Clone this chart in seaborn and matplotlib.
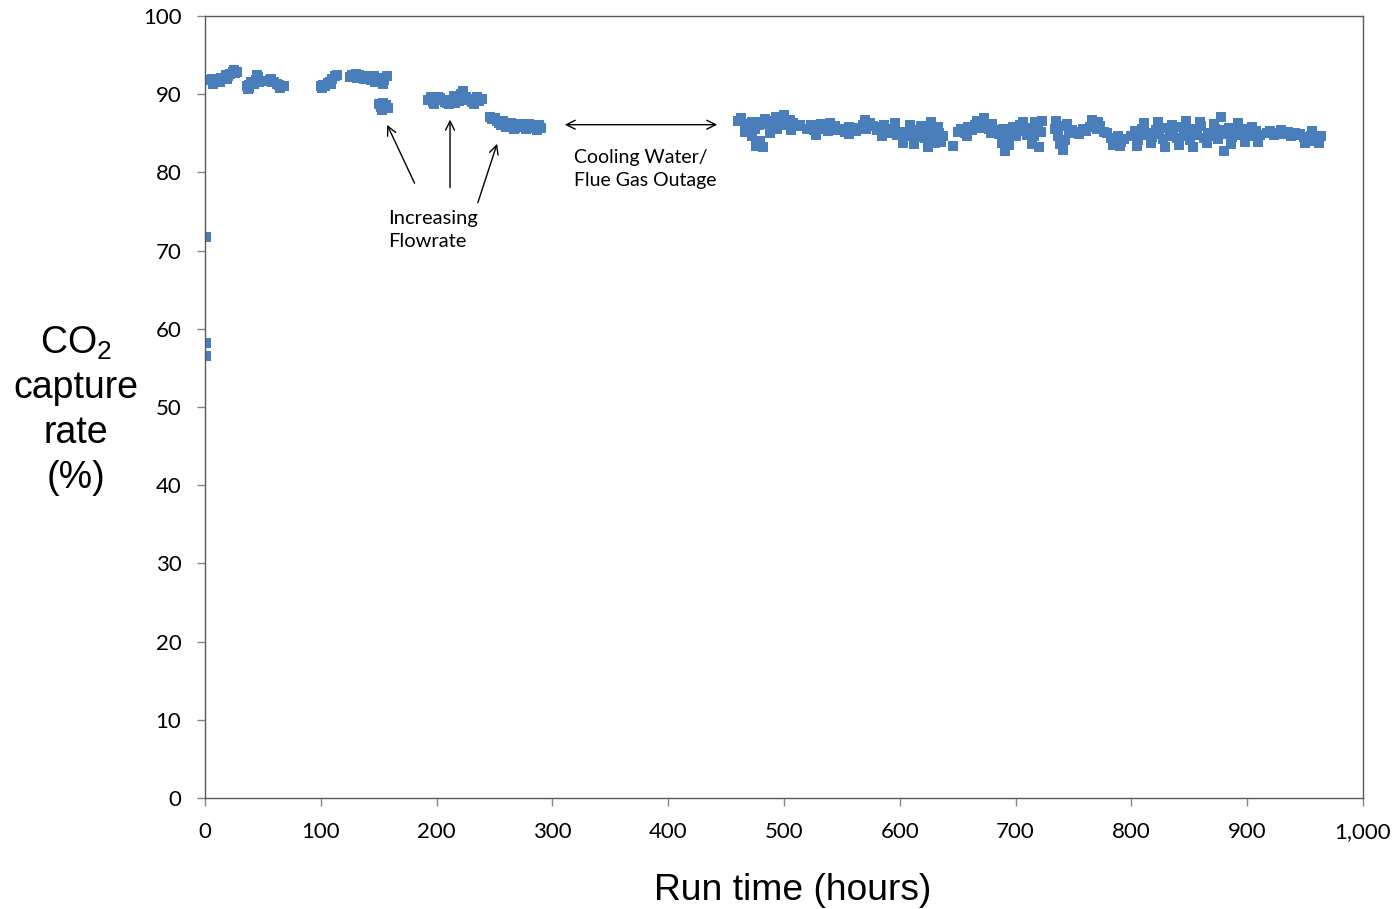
import numpy as np
import pandas as pd
import matplotlib
matplotlib.use("Agg")
import matplotlib.pyplot as plt
import seaborn as sns

# ---------------- data ----------------
start_hours = [0.8, 0.8, 0.8]
start_vals = [71.7, 58.2, 56.5]

segA_hours = [4, 6, 8, 10, 12, 14, 16, 18, 20, 22, 24, 26, 28, 7, 13, 19, 25]
segA_vals = [91.8, 92.0, 91.6, 91.5, 91.9, 92.1, 92.0, 92.4, 92.3, 92.6, 92.8, 92.7, 92.9, 91.3, 91.5, 91.9, 93.1]

segB_hours = [36, 38, 38, 40, 42, 44, 46, 47, 37, 45]
segB_vals = [91.0, 91.2, 90.8, 91.5, 91.3, 91.8, 92.2, 91.6, 90.7, 92.4]

segC_hours = [54, 56, 58, 60, 62, 64, 66, 68, 57, 65]
segC_vals = [91.7, 91.8, 91.6, 91.5, 91.3, 91.2, 91.0, 91.1, 92.0, 90.8]

segD_hours = [100, 102, 104, 106, 108, 110, 112, 114, 101, 109]
segD_vals = [91.0, 91.2, 91.1, 91.4, 91.6, 92.0, 92.3, 92.5, 90.8, 91.3]

segE_hours = [125, 127, 129, 131, 133, 135, 137, 139, 141, 143, 145, 147, 149, 151, 153, 155, 157, 130, 146, 154]
segE_vals = [92.2, 92.4, 92.3, 92.1, 92.4, 92.2, 92.0, 92.3, 92.1, 91.8, 92.0, 91.6, 91.9, 92.1, 91.5, 91.8, 92.3, 92.6, 92.3, 91.3]

segF_hours = [150, 152, 154, 156, 158, 153]
segF_vals = [88.8, 88.3, 88.9, 88.6, 88.2, 88.0]

segG_hours = [193, 195, 197, 199, 201, 203, 205, 207, 209, 211, 213, 215,
              217, 219, 221, 223, 225, 227, 229, 231, 233, 235, 237, 239, 198, 216, 232]
segG_vals = [89.2, 89.6, 89.0, 89.4, 89.7, 89.5, 89.3, 89.0, 88.9, 88.8, 89.3, 89.8,
             89.3, 89.1, 90.0, 90.4, 89.6, 89.2, 89.4, 89.0, 89.3, 89.6, 89.1, 89.4, 88.8, 88.9, 88.8]

segH_hours = [246, 248, 250, 252, 254, 256, 258, 260, 262, 264, 266, 268,
              270, 272, 274, 276, 278, 280, 282, 284, 286, 288, 290, 257, 267, 277, 287]
segH_vals = [87.1, 86.8, 87.0, 86.6, 86.3, 86.0, 86.2, 85.8, 86.1, 86.3, 85.9, 85.7,
             86.0, 86.2, 85.8, 86.1, 85.9, 86.2, 85.7, 86.0, 85.8, 86.1, 85.7, 86.6, 85.5, 85.5, 85.4]

segI1_hours = [460, 463, 466, 469, 472, 475, 478, 481, 484, 487, 490, 493, 496, 499, 502, 505, 508, 511, 514,
               466, 472, 476, 479, 482, 488, 494, 500, 506]
segI1_vals = [86.6, 86.9, 86.2, 85.8, 86.4, 85.6, 86.0, 86.5, 86.8, 86.2, 86.6, 87.1, 86.5, 86.0, 86.4, 86.7, 86.3, 85.9, 86.1,
              85.2, 84.6, 83.4, 84.0, 83.2, 85.0, 85.5, 87.4, 85.4]

segI2_hours = [520, 523, 526, 529, 532, 535, 538, 541, 544, 547, 550, 553, 556, 559, 562, 565, 568, 571, 574, 577,
               580, 583, 586, 589, 592, 595, 598, 601, 604, 607, 610, 613, 616, 619, 622, 625, 628, 631, 634, 637,
               528, 540, 556, 570, 585, 596, 603, 609, 612, 618, 624, 627, 630, 633, 636]
segI2_vals = [85.6, 86.0, 85.4, 85.8, 86.2, 85.5, 85.3, 85.7, 85.9, 85.4, 85.6, 85.2, 85.8, 85.5, 85.3, 85.7, 86.0, 85.6, 86.3, 85.9,
              85.4, 85.8, 86.1, 85.3, 85.0, 85.5, 84.8, 85.2, 84.6, 84.9, 85.4, 84.5, 84.8, 85.3, 84.4, 85.6, 84.9, 84.2, 85.1, 84.6,
              84.8, 86.3, 84.9, 86.7, 84.7, 86.3, 83.8, 86.0, 83.6, 85.9, 83.3, 86.4, 83.7, 85.8, 83.9]

segI3_hours = [646, 650, 653, 656, 659, 662, 665, 668, 671, 674, 677, 680, 683, 686, 689, 692, 695, 698, 701, 704,
               707, 710, 713, 716, 719, 722,
               658, 667, 673, 679, 688, 691, 694, 700, 706, 714, 717, 720, 723]
segI3_vals = [83.4, 85.2, 85.6, 85.0, 85.8, 85.4, 86.0, 85.7, 86.3, 86.0, 85.6, 86.2, 85.4, 84.9, 85.5, 84.6, 85.0, 85.8, 85.3, 86.1,
              85.5, 84.8, 85.7, 84.6, 85.9, 85.2,
              84.6, 86.6, 86.9, 85.0, 83.8, 82.8, 83.5, 84.6, 86.5, 83.6, 86.4, 83.3, 86.6]

segI4_hours = [734, 737, 740, 743, 746, 749, 752, 755, 758, 761, 764, 767, 770, 773, 776, 779, 782, 785, 788, 791, 794,
               735, 738, 741, 744, 766, 771, 784, 790]
segI4_vals = [85.5, 84.6, 85.9, 84.2, 85.0, 85.4, 85.2, 84.9, 85.5, 85.3, 85.8, 86.1, 85.6, 85.9, 85.2, 85.0, 84.4, 84.0, 84.6, 83.9, 84.3,
              86.6, 83.6, 82.9, 86.2, 86.7, 86.4, 83.5, 83.4]

segI5_hours = [800, 803, 806, 809, 812, 815, 818, 821, 824, 827, 830, 833, 836, 839, 842, 845, 848, 851, 854, 857,
               860, 863, 866, 869, 872, 875, 878, 881, 884, 887, 890, 893, 896, 899,
               805, 811, 817, 823, 829, 835, 841, 847, 853, 859, 865, 871, 877, 880, 886, 892, 898]
segI5_vals = [84.6, 85.3, 84.2, 85.6, 84.8, 85.1, 84.5, 85.4, 84.9, 84.3, 85.7, 84.7, 85.2, 84.4, 85.8, 84.6, 85.3, 84.2, 85.5, 84.8,
              85.9, 84.4, 85.1, 84.7, 85.6, 84.3, 85.4, 84.9, 85.7, 84.5, 85.2, 84.8, 85.5, 84.6,
              83.4, 86.3, 83.8, 86.5, 83.3, 86.1, 83.5, 86.6, 83.2, 86.4, 83.7, 86.2, 87.1, 82.8, 83.6, 86.3, 83.9]

segI6_hours = [902, 905, 908, 911, 904, 909]
segI6_vals = [85.0, 84.6, 85.3, 84.8, 85.8, 83.9]

segI7_hours = [917, 920, 923, 926, 929, 932, 935, 938, 941, 943]
segI7_vals = [85.0, 85.3, 84.8, 85.1, 85.4, 84.9, 85.2, 84.7, 85.0, 84.8]

segI8_hours = [946, 949, 952, 955, 958, 961, 964, 950, 956, 962]
segI8_vals = [84.9, 84.5, 84.2, 84.6, 84.0, 84.4, 84.7, 83.8, 85.3, 83.7]

x_ticks = [0, 100, 200, 300, 400, 500, 600, 700, 800, 900, 1000]
x_tick_labels = ["0", "100", "200", "300", "400", "500", "600", "700", "800", "900", "1,000"]
y_ticks = [0, 10, 20, 30, 40, 50, 60, 70, 80, 90, 100]

# ---------------- build table ----------------
all_hours = (start_hours + segA_hours + segB_hours + segC_hours + segD_hours + segE_hours + segF_hours +
             segG_hours + segH_hours + segI1_hours + segI2_hours + segI3_hours + segI4_hours +
             segI5_hours + segI6_hours + segI7_hours + segI8_hours)
all_vals = (start_vals + segA_vals + segB_vals + segC_vals + segD_vals + segE_vals + segF_vals +
            segG_vals + segH_vals + segI1_vals + segI2_vals + segI3_vals + segI4_vals +
            segI5_vals + segI6_vals + segI7_vals + segI8_vals)
df = pd.DataFrame({"hours": all_hours, "rate": all_vals})

# ---------------- style ----------------
sns.set_style("white")
plt.rcParams["font.family"] = ["Lato", "DejaVu Sans"]
plt.rcParams["text.color"] = "black"
plt.rcParams["mathtext.fontset"] = "custom"
plt.rcParams["mathtext.rm"] = "Liberation Sans"

fig = plt.figure(figsize=(13.94, 9.09), dpi=100)
ax = fig.add_axes([205 / 1394, 111 / 909, (1363 - 205) / 1394, (798 - 16) / 909])

sns.scatterplot(data=df, x="hours", y="rate", marker="s", s=52, color="#4A7EBB",
                linewidth=0, ax=ax, legend=False)

ax.set_xlim(0, 1000)
ax.set_ylim(0, 100)
ax.set_xticks(x_ticks)
ax.set_xticklabels(x_tick_labels)
ax.set_yticks(y_ticks)
ax.set_xlabel("")
ax.set_ylabel("")
for sp in ax.spines.values():
    sp.set_visible(True)
    sp.set_color("#595959")
    sp.set_linewidth(1.0)
ax.tick_params(axis="both", which="major", direction="out", length=6, width=1,
               color="#868686", labelsize=16, labelcolor="black")
ax.tick_params(axis="y", pad=11, left=True)
ax.tick_params(axis="x", pad=11, bottom=True)
ax.grid(False)

# axis titles
fig.text(793 / 1394, 1 - 890 / 909, "Run time (hours)", ha="center", va="center",
         fontsize=26.8, color="black", family=["Liberation Sans", "DejaVu Sans"])
ylines = [r"$\mathregular{CO_2}$", "capture", "rate", "(%)"]
ycent = [343, 388, 433, 478]
for t, yc in zip(ylines, ycent):
    fig.text(76 / 1394, 1 - yc / 909, t, ha="center", va="center",
             fontsize=27, color="black", family=["Liberation Sans", "DejaVu Sans"])

# annotations
arrow_kw = dict(arrowstyle="->", color="black", lw=1.0, mutation_scale=16)
ax.annotate("", xy=(156.3, 86.4), xytext=(182.0, 78.3), arrowprops=arrow_kw)
ax.annotate("", xy=(211.6, 87.1), xytext=(211.6, 77.7), arrowprops=arrow_kw)
ax.annotate("", xy=(253.0, 84.0), xytext=(234.9, 75.8), arrowprops=arrow_kw)
ax.text(158.0, 75.2, "Increasing\nFlowrate", ha="left", va="top", fontsize=14.5, linespacing=1.4)
ax.annotate("", xy=(308.3, 86.1), xytext=(444.7, 86.1),
            arrowprops=dict(arrowstyle="<->", color="black", lw=1.0, mutation_scale=16))
ax.text(318.7, 83.0, "Cooling Water/\nFlue Gas Outage", ha="left", va="top", fontsize=14, linespacing=1.4)

fig.savefig("out.png", dpi=100)
